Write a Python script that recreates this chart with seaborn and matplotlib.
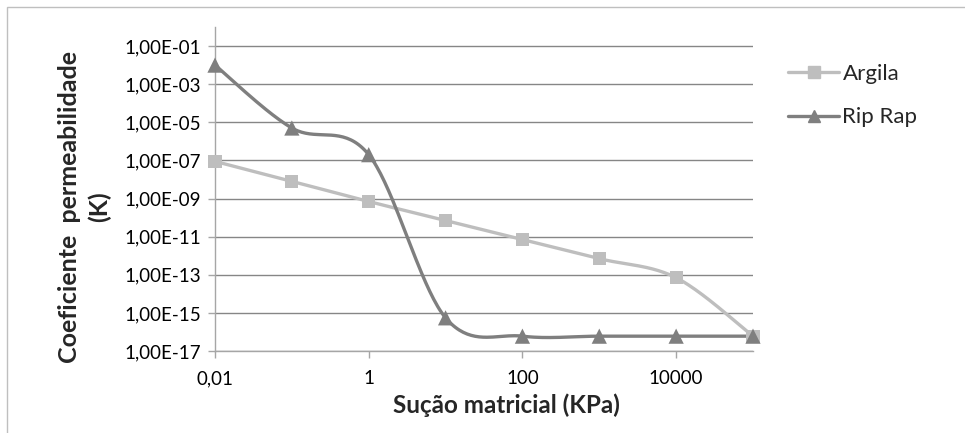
import numpy as np
import pandas as pd
import matplotlib
matplotlib.use("Agg")
import matplotlib.pyplot as plt
from matplotlib.lines import Line2D
import seaborn as sns

# data
succao = [0.01, 0.1, 1, 10, 100, 1000, 10000, 100000]
k_argila = [8.9e-8, 8e-9, 7e-10, 7e-11, 7e-12, 7e-13, 7e-14, 6e-17]
k_riprap = [1e-2, 5e-6, 2e-7, 5.5e-16, 6e-17, 6e-17, 6e-17, 6e-17]

x_ticks = [0.01, 1, 100, 10000]
x_labels = ["0,01", "1", "100", "10000"]
y_ticks = [1e-17, 1e-15, 1e-13, 1e-11, 1e-9, 1e-7, 1e-5, 1e-3, 1e-1]
y_labels = ["1,00E-17", "1,00E-15", "1,00E-13", "1,00E-11", "1,00E-09",
            "1,00E-07", "1,00E-05", "1,00E-03", "1,00E-01"]

c_argila = "#BEBEBE"
c_riprap = "#7F7F7F"


def smooth(xs, ys, n=40):
    # excel style smoothed line (bezier / catmull-rom) in log-log space
    lx = np.log10(xs)
    ly = np.log10(ys)
    px = np.concatenate([[lx[0]], lx, [lx[-1]]])
    py = np.concatenate([[ly[0]], ly, [ly[-1]]])
    ox, oy = [], []
    for i in range(1, len(px) - 2):
        p0 = np.array([px[i], py[i]])
        p3 = np.array([px[i + 1], py[i + 1]])
        p1 = p0 + (np.array([px[i + 1], py[i + 1]]) - np.array([px[i - 1], py[i - 1]])) / 6
        p2 = p3 - (np.array([px[i + 2], py[i + 2]]) - np.array([px[i], py[i]])) / 6
        t = np.linspace(0, 1, n)[:, None]
        b = (1 - t) ** 3 * p0 + 3 * (1 - t) ** 2 * t * p1 + 3 * (1 - t) * t ** 2 * p2 + t ** 3 * p3
        ox.extend(b[:, 0])
        oy.extend(b[:, 1])
    return 10 ** np.array(ox), 10 ** np.array(oy)


sns.set_style("white")
plt.rcParams['font.family'] = ['Lato', 'DejaVu Sans']

fig = plt.figure(figsize=(9.65, 4.33), dpi=100)
ax = fig.add_axes([215 / 965, 1 - 351 / 433, (753 - 215) / 965, (351 - 27) / 433])

for ys, col in [(k_argila, c_argila), (k_riprap, c_riprap)]:
    sx, sy = smooth(succao, ys)
    df = pd.DataFrame({"x": sx, "y": sy})
    sns.lineplot(data=df, x="x", y="y", ax=ax, color=col, lw=2.4, sort=False,
                 estimator=None, zorder=3)

df_a = pd.DataFrame({"x": succao, "y": k_argila})
df_r = pd.DataFrame({"x": succao, "y": k_riprap})
sns.scatterplot(data=df_a, x="x", y="y", ax=ax, marker="s", s=90, color=c_argila,
                edgecolor="none", zorder=4, clip_on=False)
sns.scatterplot(data=df_r, x="x", y="y", ax=ax, marker="^", s=120, color=c_riprap,
                edgecolor="none", zorder=5, clip_on=False)

ax.set_xscale("log")
ax.set_yscale("log")
ax.set_xlim(0.01, 100000)
ax.set_ylim(1e-17, 1)
ax.set_xticks(x_ticks)
ax.set_xticklabels(x_labels)
ax.set_yticks(y_ticks)
ax.set_yticklabels(y_labels)
ax.minorticks_off()
ax.set_xlabel("")
ax.set_ylabel("")
ax.tick_params(axis="both", labelsize=13.5, colors="#A6A6A6", labelcolor="black",
               length=5, width=1, direction="out", bottom=True, left=True)
ax.tick_params(axis="y", pad=5)
ax.tick_params(axis="x", pad=9)
ax.yaxis.grid(True, color="#868686", lw=1)
ax.xaxis.grid(False)
ax.set_axisbelow(True)
for s in ["top", "right"]:
    ax.spines[s].set_visible(False)
for s in ["left", "bottom"]:
    ax.spines[s].set_color("#A6A6A6")
    ax.spines[s].set_linewidth(1)

fig.text(506 / 965, 1 - 405 / 433, "Sução matricial (KPa)", ha="center", va="center",
         fontsize=17.5, fontweight="bold")
fig.text(85 / 965, 1 - 207 / 433, "Coeficiente  permeabilidade\n(K)", rotation=90,
         ha="center", va="center", multialignment="center", fontsize=18,
         fontweight="bold", linespacing=1.35)

handles = [Line2D([], [], color=c_argila, lw=2.4, marker="s", markersize=8),
           Line2D([], [], color=c_riprap, lw=2.4, marker="^", markersize=8)]
fig.legend(handles, ["Argila", "Rip Rap"], loc="upper left",
           bbox_to_anchor=(768 / 965, 1 - 44 / 433), frameon=False, fontsize=16,
           handlelength=2.3, handletextpad=0.15, labelspacing=1.05)

# chart border (cropped on right/bottom)
fig.add_artist(plt.Rectangle((7 / 965, -0.1), 1.2, 1 - 7 / 433 + 0.1,
                             transform=fig.transFigure, fill=False,
                             edgecolor="#BFBFBF", lw=1))

fig.savefig("out.png", dpi=100)
